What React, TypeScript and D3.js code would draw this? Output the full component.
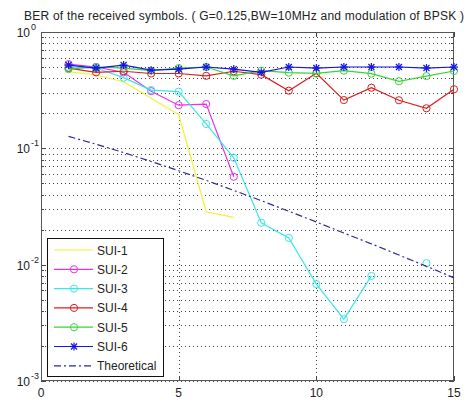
import React from "react";
import * as d3 from "d3";

const snr = [1, 2, 3, 4, 5, 6, 7, 8, 9, 10, 11, 12, 13, 14, 15];
const sui1 = [0.456, 0.427, 0.374, 0.269, 0.195, 0.0285, 0.0255];
const sui2 = [0.53, 0.5, 0.45, 0.31, 0.235, 0.24, 0.057];
const sui3: (number | null)[] = [0.5, 0.49, 0.405, 0.317, 0.307, 0.162, 0.083, 0.0229, 0.017, 0.0068, 0.0034, 0.008, null, 0.0103, null];
const sui4 = [0.49, 0.45, 0.46, 0.44, 0.44, 0.42, 0.46, 0.43, 0.313, 0.441, 0.26, 0.332, 0.259, 0.221, 0.322];
const sui5 = [0.48, 0.5, 0.49, 0.465, 0.49, 0.5, 0.42, 0.465, 0.447, 0.441, 0.465, 0.438, 0.377, 0.418, 0.462];
const sui6 = [0.52, 0.49, 0.52, 0.47, 0.48, 0.5, 0.48, 0.45, 0.5, 0.49, 0.5, 0.5, 0.5, 0.49, 0.5];
const theoretical = [0.1267, 0.1085, 0.0919, 0.0771, 0.0642, 0.053, 0.0435, 0.0355, 0.0288, 0.0233, 0.0187, 0.0151, 0.0121, 0.0097, 0.0077];

const xTicks = [0, 5, 10, 15];
const yDecades = [-3, -2, -1, 0];
const titleText = "BER of the received symbols. ( G=0.125,BW=10MHz and modulation of BPSK )";

type Series = { name: string; values: (number | null)[]; color: string; marker: "none" | "circle" | "star"; dash?: string };
const series: Series[] = [
  { name: "SUI-1", values: sui1, color: "#f2f230", marker: "none" },
  { name: "SUI-2", values: sui2, color: "#e632e6", marker: "circle" },
  { name: "SUI-3", values: sui3, color: "#3ce6e6", marker: "circle" },
  { name: "SUI-4", values: sui4, color: "#d82020", marker: "circle" },
  { name: "SUI-5", values: sui5, color: "#3cd23c", marker: "circle" },
  { name: "SUI-6", values: sui6, color: "#1414e6", marker: "star" },
  { name: "Theoretical", values: theoretical, color: "#2a2a9a", marker: "none", dash: "7,3,2,3" },
];

const L = 41, R = 454, T = 32, B = 381;
const FONT = "'Liberation Sans', Arial, sans-serif";

function Marker({ kind, x, y, color }: { kind: string; x: number; y: number; color: string }) {
  if (kind === "circle") return <circle cx={x} cy={y} r={3.6} fill="none" stroke={color} strokeWidth={1} />;
  if (kind === "star") {
    const s = 4;
    const d = 3;
    return (
      <g stroke={color} strokeWidth={1.2}>
        <line x1={x - s} y1={y} x2={x + s} y2={y} />
        <line x1={x} y1={y - s} x2={x} y2={y + s} />
        <line x1={x - d} y1={y - d} x2={x + d} y2={y + d} />
        <line x1={x - d} y1={y + d} x2={x + d} y2={y - d} />
      </g>
    );
  }
  return null;
}

export default function App() {
  const x = d3.scaleLinear().domain([0, 15]).range([L, R]);
  const y = d3.scaleLog().domain([1e-3, 1]).range([B, T]);

  const gridY: number[] = [];
  for (const e of [-3, -2, -1]) {
    for (let k = 1; k <= 9; k++) gridY.push(k * Math.pow(10, e));
  }
  gridY.push(1);

  const line = d3
    .line<[number, number | null]>()
    .defined((d) => d[1] !== null)
    .x((d) => x(d[0]))
    .y((d) => y(d[1] as number));

  const legX = 47, legY = 238, legW = 116, legH = 138;
  const rowH = 19.3;

  return (
    <svg width={468} height={400} style={{ position: "absolute", left: 0, top: 0, background: "#fff" }} fontFamily={FONT}>
      <rect x={0} y={0} width={468} height={400} fill="#fff" />
      <text x={24} y={19.5} fontSize={12} textAnchor="start" fill="#222" textLength={440} lengthAdjust="spacing">{titleText}</text>

      {/* grid */}
      <g stroke="#444" strokeWidth={1} strokeDasharray="1,3">
        {gridY.map((v, i) => (
          <line key={"gy" + i} x1={L} x2={R} y1={Math.round(y(v)) + 0.5} y2={Math.round(y(v)) + 0.5} />
        ))}
        {xTicks.slice(1, -1).map((t) => (
          <line key={"gx" + t} x1={Math.round(x(t)) + 0.5} x2={Math.round(x(t)) + 0.5} y1={T} y2={B} />
        ))}
      </g>

      {/* ticks */}
      <g stroke="#444" strokeWidth={1}>
        {gridY.map((v, i) => {
          const yy = Math.round(y(v)) + 0.5;
          const major = Math.abs(Math.log10(v) - Math.round(Math.log10(v))) < 1e-9;
          const len = major ? 5 : 3;
          return (
            <g key={"ty" + i}>
              <line x1={L} x2={L + len} y1={yy} y2={yy} />
              <line x1={R - len} x2={R} y1={yy} y2={yy} />
            </g>
          );
        })}
        {xTicks.map((t) => (
          <g key={"tx" + t}>
            <line x1={Math.round(x(t)) + 0.5} x2={Math.round(x(t)) + 0.5} y1={B} y2={B - 5} />
            <line x1={Math.round(x(t)) + 0.5} x2={Math.round(x(t)) + 0.5} y1={T} y2={T + 5} />
          </g>
        ))}
      </g>

      {/* frame */}
      <rect x={L + 0.5} y={T + 0.5} width={R - L - 1} height={B - T - 1} fill="none" stroke="#555" strokeWidth={1} />

      {/* tick labels */}
      <g fontSize={12} fill="#222">
        {xTicks.map((t) => (
          <text key={"lx" + t} x={x(t)} y={397} textAnchor="middle">{t}</text>
        ))}
        {yDecades.map((e) => (
          <g key={"ly" + e}>
            <text x={30} y={y(Math.pow(10, e)) + 5} textAnchor="end">10</text>
            <text x={31} y={y(Math.pow(10, e)) - 2} fontSize={9} textAnchor="start">{e}</text>
          </g>
        ))}
      </g>

      {/* series */}
      {series.map((s) => {
        const pts: [number, number | null][] = s.values.map((v, i) => [snr[i], v]);
        return (
          <g key={s.name}>
            <path d={line(pts) || ""} fill="none" stroke={s.color} strokeWidth={1.2} strokeDasharray={s.dash} />
            {s.marker !== "none" &&
              pts.filter((p) => p[1] !== null).map((p, i) => (
                <Marker key={i} kind={s.marker} x={x(p[0])} y={y(p[1] as number)} color={s.color} />
              ))}
          </g>
        );
      })}

      {/* legend */}
      <rect x={legX + 0.5} y={legY + 0.5} width={legW} height={legH} fill="#fff" stroke="#111" strokeWidth={1} />
      {series.map((s, i) => {
        const yy = 250 + i * rowH;
        return (
          <g key={"leg" + s.name}>
            <line x1={54} x2={93} y1={yy} y2={yy} stroke={s.color} strokeWidth={1.2} strokeDasharray={s.dash} />
            <Marker kind={s.marker} x={74} y={yy} color={s.color} />
            <text x={97} y={yy + 4.5} fontSize={12} fill="#222">{s.name}</text>
          </g>
        );
      })}
    </svg>
  );
}
